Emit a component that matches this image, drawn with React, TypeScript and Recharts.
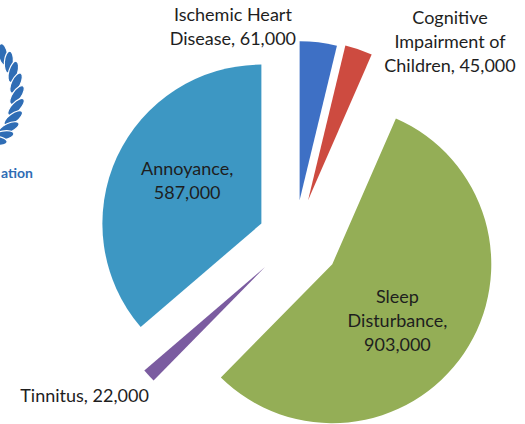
import React from 'react';
import { PieChart, Pie, Cell } from 'recharts';

// health burden of environmental noise (DALYs), clockwise from 12 o'clock
const causes = ['Ischemic Heart Disease', 'Cognitive Impairment of Children', 'Sleep Disturbance', 'Tinnitus', 'Annoyance'];
const dalys = [61000, 45000, 903000, 22000, 587000];
// how the label text of each slice is broken into lines
const nameLines = [['Ischemic Heart', 'Disease'], ['Cognitive', 'Impairment of', 'Children'], ['Sleep', 'Disturbance'], ['Tinnitus'], ['Annoyance']];
const valueOnOwnLine = [false, false, true, false, true];
const colors = ['#3e70c5', '#cd4b40', '#94ae56', '#7b5ca0', '#3d97c3'];

// layout
const W = 525;
const H = 424;
const CX = 295;
const CY = 239;
const R = 159;
const explode = [39, 41, 45, 41, 37];
const labelRadius = [1.176, 1.34, 0.54, 1.39, 0.54];
const labelShift = [-27.7, 23.2, 6.6, 7.8, 5.5];
const LINE = 24;

const data = causes.map((name, i) => ({ name, value: dalys[i] }));
const total = dalys.reduce((a, b) => a + b, 0);
const RAD = Math.PI / 180;

// mid angle of each slice, degrees clockwise from the top
const midAngles = dalys.map((v, i) => {
  const before = dalys.slice(0, i).reduce((a, b) => a + b, 0);
  return ((before + v / 2) / total) * 360;
});

function labelText(i: number) {
  const lines = [...nameLines[i]];
  const val = dalys[i].toLocaleString('en-US');
  const last = lines.length - 1;
  if (valueOnOwnLine[i]) {
    lines[last] = lines[last] + ',';
    lines.push(val);
  } else {
    lines[last] = lines[last] + ', ' + val;
  }
  return lines;
}

function makeLabel(slice: number) {
  return (props: any) => {
    const { cx, cy, index } = props;
    if (index !== slice) return null;
    const a = (midAngles[slice] + labelShift[slice]) * RAD;
    const r = R * labelRadius[slice];
    const x = cx + r * Math.sin(a);
    const y = cy - r * Math.cos(a);
    const lines = labelText(slice);
    const top = y - ((lines.length - 1) * LINE) / 2;
    return (
      <text x={x} y={top} textAnchor="middle" dominantBaseline="central" fill="#1e1e1e" fontSize={18} fontFamily="Lato, sans-serif">
        {lines.map((l, k) => (
          <tspan key={k} x={x} dy={k === 0 ? 0 : LINE}>{l}</tspan>
        ))}
      </text>
    );
  };
}

// bit of the logo cut off at the left edge of the slide
function Wreath() {
  const leaves = [];
  for (let k = 0; k < 11; k++) {
    const t = (-72 + k * 14.4) * RAD;
    const x = -13 + 30 * Math.cos(t);
    const y = 95 + 48 * Math.sin(t);
    const ang = (Math.atan2(-48 * Math.cos(t), 30 * Math.sin(t)) / RAD) + 35;
    leaves.push(
      <ellipse key={k} cx={x} cy={y} rx={11} ry={4.5} fill="#2f6db5" stroke="#fff" strokeWidth={1.2}
        transform={`rotate(${ang} ${x} ${y})`} />
    );
  }
  return (
    <svg width={40} height={170} style={{ position: 'absolute', left: 0, top: 0 }}>
      {leaves}
    </svg>
  );
}

export default function App() {
  return (
    <div style={{ position: 'absolute', left: 0, top: 0, width: W, height: H, background: '#fff' }}>
      <Wreath />
      <div style={{ position: 'absolute', left: 1, top: 164, color: '#2f6db5', fontWeight: 700, fontSize: 14, fontFamily: 'Lato, sans-serif' }}>ation</div>
      <PieChart width={W} height={H} margin={{ top: 0, right: 0, bottom: 0, left: 0 }} style={{ position: 'absolute', left: 0, top: 0 }}>
        {data.map((_, s) => (
          <Pie
            key={s}
            data={data}
            dataKey="value"
            nameKey="name"
            cx={CX + explode[s] * Math.sin(midAngles[s] * RAD)}
            cy={CY - explode[s] * Math.cos(midAngles[s] * RAD)}
            outerRadius={R}
            innerRadius={0}
            startAngle={90}
            endAngle={-270}
            paddingAngle={0}
            stroke="none"
            label={makeLabel(s)}
            labelLine={false}
            isAnimationActive={false}
          >
            {data.map((d, i) => (
              <Cell key={d.name} fill={i === s ? colors[i] : 'none'} stroke="none" />
            ))}
          </Pie>
        ))}
      </PieChart>
    </div>
  );
}
